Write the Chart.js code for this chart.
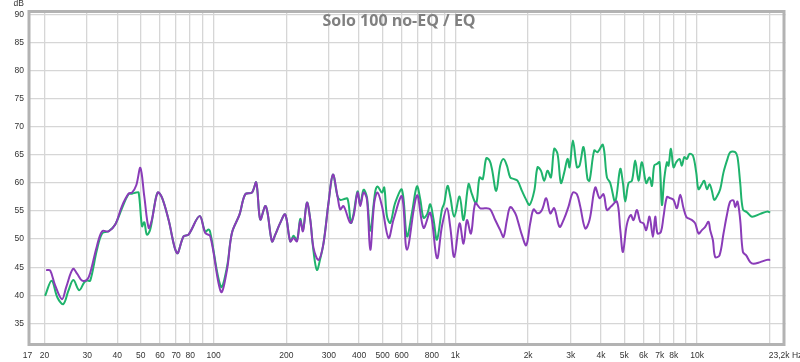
<!DOCTYPE html>
<html><head><meta charset="utf-8">
<script src="https://cdn.jsdelivr.net/npm/chart.js@4.4.0/dist/chart.umd.min.js"></script>
<style>html,body{margin:0;padding:0;background:#fff;}#wrap{width:800px;height:362px;position:relative;}</style>
</head><body><div id="wrap"><canvas id="c" width="800" height="362"></canvas></div>
<script>
const titleText = 'Solo 100 no-EQ / EQ';
const yUnit = 'dB';

// EQ (purple)
const freqEQ = [
 20.3, 21.1, 22.1, 23.6, 24.6, 26.2, 27.3, 28.6, 30.0, 30.9,
 32.9, 34.6, 36.8, 39.2, 41.8, 44.5, 46.0, 47.9, 49.8, 51.7,
 53.9, 55.6, 58.7, 61.2, 65.1, 70.6, 75.2, 78.8, 87.5, 92.4,
 96.9, 107.3, 113.6, 119.1, 128.1, 135.2, 144.1, 150.1, 156.0, 163.6,
 167.2, 174.4, 180.0, 188.7, 197.9, 207.6, 214.2, 221.3, 228.3, 234.3,
 243.3, 251.1, 259.1, 271.7, 285.0, 298.9, 311.7, 325.7, 334.2, 344.9,
 367.6, 379.3, 394.1, 404.3, 417.2, 430.9, 444.7, 462.0, 476.7, 497.1,
 529.3, 555.2, 601.4, 630.7, 693.7, 738.7, 787.4, 839.3, 880.2, 923.1,
 952.5, 989.5, 1041, 1081, 1117, 1160, 1209, 1268, 1329, 1394,
 1462, 1533, 1582, 1634, 1687, 1769, 1825, 1886, 1964, 2040,
 2106, 2187, 2281, 2376, 2469, 2564, 2697, 2821, 2938, 3064,
 3183, 3285, 3445, 3589, 3789, 3947, 4101, 4236, 4400, 4659,
 4807, 4933, 5115, 5313, 5456, 5636, 5816, 6001, 6158, 6354,
 6564, 6709, 6858, 7083, 7260, 7500, 7739, 7986, 8249, 8512,
 8784, 9013, 9212, 9516, 9819, 10132, 10467, 10800, 11145, 11326,
 11622, 11878, 12375, 12855, 13279, 13703, 14140, 14371, 14690, 15072,
 15465, 15958, 16578, 17107, 18234, 19436, 20056
];
const dbEQ = [
 44.5, 44.4, 41.8, 39.3, 41.5, 44.7, 43.8, 42.6, 42.8, 44.0,
 48.7, 51.4, 51.4, 52.6, 55.9, 58.1, 58.3, 59.6, 62.7, 57.6,
 52.0, 53.5, 58.3, 57.4, 53.5, 47.5, 50.5, 50.8, 54.1, 51.1,
 50.5, 40.6, 44.5, 51.1, 54.4, 58.0, 58.3, 60.1, 53.5, 55.9,
 54.7, 49.6, 50.8, 52.9, 54.4, 49.6, 50.2, 49.6, 53.2, 51.4,
 56.5, 53.5, 48.4, 46.3, 49.3, 56.5, 61.5, 57.6, 55.3, 55.9,
 52.9, 54.1, 58.3, 55.9, 58.3, 57.1, 48.1, 56.5, 58.3, 55.9,
 50.2, 53.5, 57.6, 48.1, 57.8, 52.0, 54.7, 46.6, 52.3, 55.5,
 52.2, 46.8, 52.8, 49.2, 53.4, 51.0, 56.4, 55.5, 55.5, 55.3,
 53.4, 51.6, 50.4, 53.4, 55.7, 54.6, 52.8, 50.7, 48.9, 52.8,
 55.3, 54.6, 55.2, 57.3, 54.6, 55.5, 52.2, 53.7, 55.8, 58.3,
 58.0, 55.8, 51.9, 53.4, 59.2, 57.3, 58.0, 55.2, 55.8, 56.7,
 51.8, 47.7, 52.5, 54.3, 53.4, 55.2, 53.1, 52.8, 51.6, 54.0,
 50.4, 54.0, 51.0, 51.3, 54.0, 57.5, 57.3, 57.0, 55.5, 57.9,
 55.5, 54.0, 53.7, 53.4, 52.8, 51.0, 51.6, 52.2, 53.1, 51.6,
 49.8, 46.8, 47.1, 51.0, 54.3, 56.7, 56.9, 55.7, 56.7, 53.4,
 47.7, 47.1, 45.9, 45.6, 45.9, 46.3, 46.3
];

// no-EQ (green)
const freqNoEQ = [
 20.1, 21.4, 22.6, 23.9, 25.1, 26.3, 27.8, 29.2, 30.0, 30.9,
 32.9, 34.6, 36.8, 39.2, 41.8, 44.5, 46.0, 47.9, 49.0, 50.6,
 51.7, 53.0, 54.7, 56.9, 58.7, 61.2, 65.1, 70.6, 75.2, 78.8,
 87.5, 92.4, 95.1, 96.9, 107.3, 113.6, 119.1, 128.1, 135.2, 144.1,
 150.1, 156.0, 163.6, 167.2, 174.4, 180.0, 188.7, 197.9, 207.6, 214.2,
 221.3, 228.3, 234.3, 243.3, 251.1, 259.1, 267.6, 276.2, 285.0, 298.9,
 311.7, 325.7, 334.2, 344.9, 358.3, 370.1, 379.3, 394.1, 404.3, 417.2,
 430.9, 444.7, 466.4, 476.7, 497.1, 508.1, 521.3, 538.0, 564.2, 601.4,
 630.7, 661.5, 693.7, 715.9, 738.7, 765.2, 787.4, 812.5, 839.3, 880.2,
 899.6, 928.4, 952.5, 989.5, 1041, 1081, 1134, 1171, 1220, 1259,
 1298, 1342, 1385, 1417, 1476, 1533, 1582, 1634, 1687, 1752,
 1808, 1886, 1964, 2027, 2120, 2187, 2259, 2331, 2406, 2485,
 2564, 2646, 2733, 2821, 2911, 2967, 3064, 3183, 3263, 3390,
 3521, 3589, 3753, 3873, 4077, 4236, 4371, 4584, 4807, 4933,
 5042, 5203, 5374, 5546, 5722, 5911, 6158, 6354, 6502, 6645,
 6819, 6989, 7151, 7309, 7500, 7614, 7791, 7986, 8194, 8456,
 8652, 8843, 9073, 9300, 9607, 9913, 10132, 10467, 10698, 10977,
 11252, 11512, 11766, 12072, 12458, 12855, 13355, 13703, 14371, 14690,
 15072, 15465, 16065, 16850, 18234, 19436, 20056
];
const dbNoEQ = [
 39.9, 42.6, 39.6, 38.4, 40.8, 42.7, 40.9, 42.3, 42.6, 42.6,
 48.0, 51.0, 51.4, 52.6, 55.5, 58.0, 58.1, 58.3, 58.3, 52.3,
 53.0, 50.8, 51.7, 55.9, 58.3, 57.4, 53.5, 47.5, 50.5, 50.8,
 54.1, 51.3, 51.7, 51.2, 41.5, 45.0, 51.1, 54.4, 58.0, 58.3,
 60.1, 53.5, 55.9, 54.7, 49.6, 50.8, 52.9, 54.4, 49.6, 50.6,
 49.8, 53.6, 51.6, 56.5, 53.5, 47.8, 44.5, 46.5, 49.3, 56.5,
 61.5, 57.6, 57.0, 57.1, 57.2, 52.9, 54.5, 58.5, 56.2, 58.8,
 57.5, 51.5, 58.5, 59.4, 58.3, 59.2, 54.1, 52.9, 56.5, 58.8,
 50.5, 54.7, 59.4, 57.1, 53.8, 54.5, 56.2, 53.5, 49.9, 55.3,
 56.4, 59.5, 57.6, 54.0, 57.6, 53.4, 59.8, 58.0, 56.4, 61.0,
 60.7, 64.4, 64.0, 62.5, 58.6, 63.1, 64.3, 63.1, 61.0, 60.7,
 60.4, 58.6, 57.0, 56.1, 58.6, 62.8, 62.2, 60.4, 62.2, 61.0,
 66.1, 65.2, 60.0, 61.9, 64.3, 62.8, 67.6, 62.8, 63.1, 66.4,
 60.7, 60.4, 65.8, 65.5, 66.8, 61.0, 60.0, 56.7, 62.5, 60.0,
 56.7, 60.0, 60.4, 64.0, 60.4, 63.7, 60.0, 61.0, 59.5, 63.1,
 63.4, 63.7, 56.1, 60.7, 63.7, 63.1, 66.1, 62.8, 63.7, 64.3,
 63.1, 64.6, 64.3, 65.2, 64.9, 61.9, 58.9, 59.8, 60.4, 58.9,
 59.8, 58.6, 57.0, 57.6, 58.9, 61.9, 64.3, 65.5, 65.5, 64.6,
 60.0, 55.3, 54.8, 54.0, 54.5, 54.9, 54.8
];

const xTickValues = [17,20,30,40,50,60,70,80,90,100,200,300,400,500,600,700,800,900,
  1000,2000,3000,4000,5000,6000,7000,8000,9000,10000,20000,23200];
const xTickLabels = ['17','20','30','40','50','60','70','80','','100','200','300','400','500','600','','800','',
  '1k','2k','3k','4k','5k','6k','7k','8k','','10k','','23,2k Hz'];
const yTickValues = [35,40,45,50,55,60,65,70,75,80,85,90];

const X_MIN = 17, X_MAX = 23200, Y_MIN = 30.95, Y_MAX = 90.84;
const labelFont = {family: '"Liberation Sans", Arial, sans-serif', size: 8.5};

const toPoints = (fs, ds) => fs.map((f, i) => ({x: f, y: ds[i]}));

const frame = {
  id: 'frame',
  afterDraw(chart) {
    const {ctx, chartArea: a} = chart;
    ctx.save();
    ctx.strokeStyle = '#b3b3b3';
    ctx.lineWidth = 3;
    ctx.strokeRect(a.left + 1.5, a.top + 1.5, a.right - a.left - 3, a.bottom - a.top - 3);
    ctx.fillStyle = '#808080';
    ctx.font = 'bold 16px "Open Sans", "Noto Sans", sans-serif';
    ctx.textAlign = 'center';
    ctx.textBaseline = 'middle';
    ctx.fillText(titleText, 399, 21);
    ctx.fillStyle = '#333';
    ctx.font = '8.5px "Liberation Sans", Arial, sans-serif';
    ctx.textAlign = 'right';
    ctx.fillText(yUnit, 24, 4);
    ctx.restore();
  }
};

new Chart(document.getElementById('c'), {
  type: 'line',
  data: {
    datasets: [
      {label: 'EQ', data: toPoints(freqEQ, dbEQ), borderColor: '#8a3cb8', borderWidth: 2, pointRadius: 0, tension: 0.35, fill: false},
      {label: 'no-EQ', data: toPoints(freqNoEQ, dbNoEQ), borderColor: '#1fb36c', borderWidth: 2, pointRadius: 0, tension: 0.35, fill: false}
    ]
  },
  options: {
    responsive: false,
    animation: false,
    devicePixelRatio: 1,
    layout: {padding: {left: 0, right: 14.5, top: 10, bottom: 0}},
    plugins: {legend: {display: false}, tooltip: {enabled: false}, title: {display: false}},
    scales: {
      x: {
        type: 'logarithmic', min: X_MIN, max: X_MAX,
        afterBuildTicks: s => { s.ticks = xTickValues.map(v => ({value: v})); },
        afterFit: s => { s.height = 16; s.paddingLeft = 0; s.paddingRight = 0; },
        ticks: {autoSkip: false, maxRotation: 0, padding: 5, color: '#333', font: labelFont,
          callback: v => { const i = xTickValues.indexOf(v); return i >= 0 ? xTickLabels[i] : ''; }},
        grid: {drawTicks: false, lineWidth: 1.3,
          color: c => (c.tick && (c.tick.value === X_MIN || c.tick.value === X_MAX)) ? 'rgba(0,0,0,0)' : '#d6d6d6'},
        border: {display: false}
      },
      y: {
        type: 'linear', min: Y_MIN, max: Y_MAX,
        afterBuildTicks: s => { s.ticks = yTickValues.map(v => ({value: v})); },
        afterFit: s => { s.width = 27.5; s.paddingTop = 0; s.paddingBottom = 0; },
        ticks: {padding: 3.5, color: '#333', font: labelFont},
        grid: {drawTicks: false, lineWidth: 1.3, color: '#d6d6d6'},
        border: {display: false}
      }
    }
  },
  plugins: [frame]
});
</script>
</body></html>
